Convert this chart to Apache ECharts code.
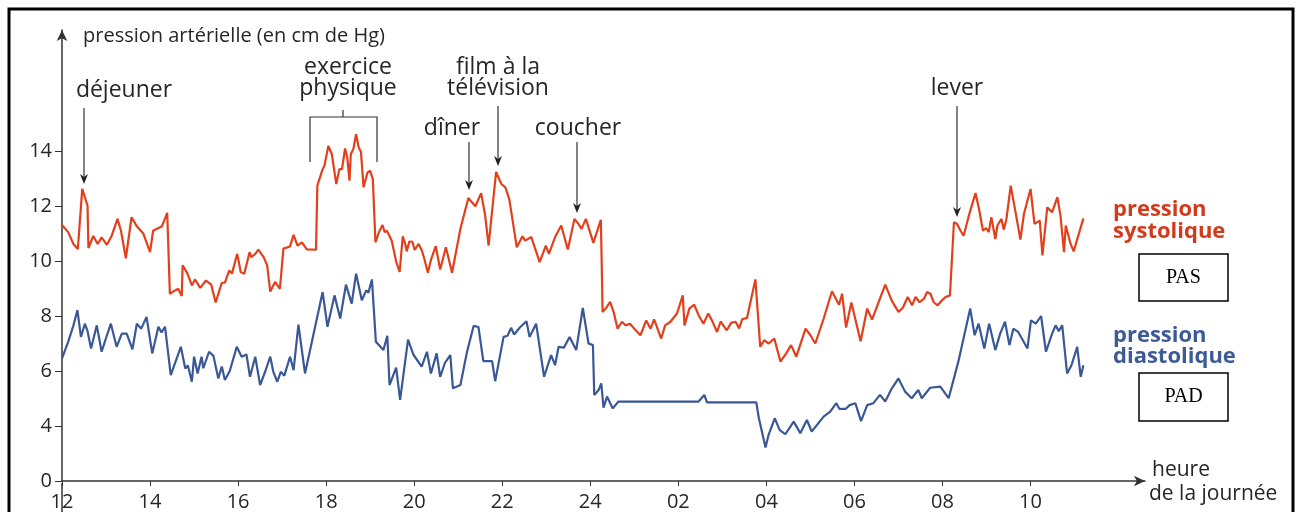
<!DOCTYPE html>
<html><head><meta charset="utf-8">
<script src="https://cdn.jsdelivr.net/npm/echarts@6/dist/echarts.min.js"></script>
<style>html,body{margin:0;padding:0;background:#fff}#c{width:1297px;height:512px}</style>
</head><body><div id="c"></div>
<script>
// hours since midnight of day 1 (24+ = next day)
const sysHours = [12.0,12.14,12.26,12.36,12.46,12.58,12.6,12.71,12.81,12.9,13.02,13.13,13.26,13.34,13.45,13.58,13.7,13.85,14.0,14.07,14.27,14.39,14.45,14.57,14.64,14.72,14.74,14.85,14.95,15.02,15.14,15.27,15.39,15.49,15.63,15.7,15.8,15.86,15.98,16.06,16.14,16.26,16.3,16.39,16.46,16.58,16.66,16.73,16.84,16.95,17.03,17.18,17.26,17.35,17.45,17.56,17.77,17.8,17.84,17.92,17.96,18.05,18.13,18.23,18.3,18.36,18.43,18.48,18.53,18.56,18.62,18.68,18.74,18.79,18.85,18.94,19.0,19.06,19.12,19.2,19.28,19.33,19.38,19.49,19.59,19.67,19.74,19.8,19.83,19.89,19.96,20.01,20.1,20.17,20.23,20.31,20.38,20.49,20.59,20.72,20.86,21.05,21.23,21.39,21.52,21.61,21.69,21.86,21.98,22.07,22.16,22.33,22.46,22.52,22.66,22.85,22.99,23.06,23.2,23.34,23.49,23.64,23.73,23.8,23.9,24.07,24.24,24.28,24.35,24.45,24.53,24.62,24.72,24.8,24.9,25.0,25.14,25.27,25.37,25.45,25.61,25.7,25.82,25.97,26.1,26.14,26.25,26.36,26.46,26.57,26.68,26.76,26.88,26.96,27.1,27.2,27.3,27.38,27.45,27.56,27.75,27.86,27.95,28.05,28.18,28.32,28.45,28.56,28.68,28.89,29.0,29.11,29.3,29.49,29.65,29.72,29.81,29.93,30.14,30.29,30.4,30.7,30.85,31.0,31.1,31.21,31.31,31.39,31.48,31.58,31.65,31.73,31.8,31.89,31.99,32.07,32.17,32.26,32.33,32.41,32.48,32.62,32.75,32.83,32.92,32.99,33.05,33.11,33.2,33.25,33.34,33.39,33.45,33.55,33.66,33.77,33.85,34.0,34.09,34.21,34.27,34.38,34.49,34.61,34.68,34.76,34.8,34.91,34.98,35.2];
const sysValues = [11.31,11.05,10.62,10.44,12.62,12.01,10.47,10.91,10.62,10.86,10.59,10.92,11.53,11.1,10.1,11.59,11.26,10.99,10.32,11.1,11.26,11.75,8.81,8.93,8.99,8.73,9.84,9.54,9.11,9.33,9.02,9.29,9.14,8.49,9.21,9.21,9.66,9.54,10.26,9.6,9.54,10.32,10.14,10.26,10.41,10.14,9.84,8.89,9.24,8.99,10.45,10.53,10.95,10.56,10.68,10.42,10.41,12.74,12.77,13.34,13.46,14.18,13.88,12.8,13.34,13.34,14.09,13.76,12.92,13.88,14.08,14.61,14.13,13.97,12.68,13.22,13.28,12.98,10.68,11.05,11.31,11.05,11.1,10.74,9.98,9.6,10.9,10.6,10.35,10.71,10.7,10.4,10.62,10.4,10.08,9.57,10.04,10.54,9.69,10.5,9.57,11.17,12.29,11.99,12.47,11.68,10.56,13.24,12.8,12.68,12.25,10.5,10.9,10.74,10.87,9.96,10.56,10.26,10.87,11.29,10.42,11.53,11.35,11.17,11.53,10.66,11.5,8.15,8.27,8.51,8.15,7.54,7.79,7.66,7.72,7.54,7.3,7.84,7.54,7.88,7.18,7.66,7.79,8.09,8.75,7.66,8.27,8.41,8.03,7.72,8.09,7.85,7.42,7.8,7.48,7.75,7.79,7.55,7.88,7.93,9.33,6.88,7.12,7.0,7.18,6.34,6.64,6.94,6.52,7.54,7.3,7.0,7.9,8.9,8.41,8.81,7.58,8.49,7.08,8.27,7.87,9.14,8.55,8.15,8.3,8.69,8.39,8.69,8.5,8.63,8.87,8.8,8.5,8.39,8.57,8.69,8.75,11.41,11.35,11.1,10.92,11.77,12.47,11.89,11.1,11.2,11.05,11.59,10.8,11.3,11.53,11.14,11.5,12.74,11.77,10.78,11.71,12.62,11.35,11.47,10.2,11.95,11.77,12.32,11.65,10.32,11.29,10.62,10.35,11.55];

const diaHours = [12.0,12.14,12.26,12.35,12.43,12.52,12.58,12.66,12.79,12.9,13.0,13.11,13.24,13.36,13.47,13.6,13.7,13.8,13.92,14.05,14.19,14.26,14.34,14.47,14.7,14.8,14.86,14.95,15.0,15.08,15.17,15.21,15.34,15.44,15.55,15.63,15.7,15.81,15.97,16.08,16.19,16.27,16.39,16.5,16.62,16.73,16.8,16.89,16.97,17.05,17.18,17.26,17.37,17.52,17.92,18.03,18.19,18.32,18.45,18.58,18.68,18.81,18.91,18.96,19.04,19.13,19.3,19.39,19.44,19.59,19.68,19.86,19.98,20.17,20.29,20.38,20.51,20.59,20.7,20.82,20.88,21.05,21.2,21.35,21.46,21.57,21.77,21.84,22.03,22.12,22.2,22.27,22.41,22.55,22.62,22.77,22.95,23.11,23.2,23.28,23.4,23.53,23.68,23.83,23.96,24.06,24.09,24.19,24.25,24.3,24.38,24.51,24.64,26.46,26.59,26.65,27.77,27.83,27.98,28.05,28.19,28.3,28.43,28.62,28.77,28.92,29.03,29.3,29.45,29.59,29.66,29.8,29.89,30.02,30.15,30.29,30.43,30.58,30.7,30.85,31.0,31.15,31.3,31.45,31.53,31.72,31.95,32.14,32.36,32.63,32.73,32.82,32.95,33.06,33.2,33.31,33.42,33.52,33.61,33.72,33.93,34.01,34.12,34.24,34.35,34.49,34.57,34.64,34.72,34.83,34.93,35.06,35.14,35.2];
const diaValues = [6.46,7.06,7.66,8.21,7.24,7.72,7.45,6.82,7.66,6.7,7.2,7.72,6.88,7.36,7.36,6.79,7.72,7.54,7.97,6.64,7.61,7.4,7.61,5.85,6.88,6.09,6.2,5.61,6.52,5.91,6.52,6.1,6.7,6.55,5.73,6.16,5.67,6.0,6.88,6.52,6.6,5.79,6.52,5.49,6.0,6.52,5.97,5.61,5.97,5.83,6.52,6.03,7.69,5.91,8.87,7.61,8.75,7.91,9.14,8.45,9.54,8.57,8.93,8.85,9.33,7.06,6.76,7.28,5.49,6.12,4.95,7.14,6.6,6.16,6.7,5.91,6.64,5.79,6.3,6.58,5.37,5.49,6.7,7.64,7.6,6.36,6.36,5.63,7.24,7.28,7.57,7.33,7.6,7.81,7.24,7.72,5.79,6.58,6.21,6.88,6.85,7.24,6.76,8.29,7.0,6.94,5.13,5.31,5.55,4.67,5.07,4.64,4.89,4.89,5.13,4.86,4.86,4.28,3.22,3.68,4.28,3.86,3.7,4.16,3.74,4.22,3.8,4.34,4.52,4.83,4.62,4.62,4.76,4.83,4.18,4.76,4.83,5.13,4.89,5.37,5.73,5.25,5.01,5.31,5.01,5.39,5.43,5.01,6.34,8.27,7.3,7.72,6.82,7.72,6.76,7.36,7.79,6.94,7.54,7.42,6.82,7.84,7.72,8.0,6.7,7.36,7.66,7.45,7.66,5.91,6.21,6.88,5.79,6.21];

const xTicks = [12,14,16,18,20,22,24,26,28,30,32,34];
const yTicks = [2,4,6,8,10,12,14]; // the axis is broken below 4: the lowest tick is labelled 0
const yTickLabels = {2:'0',4:'4',6:'6',8:'8',10:'10',12:'12',14:'14'};

const RED = '#e2401c', BLUE = '#3a5796', TXT = '#262626';
const FONT = '"Open Sans", "Noto Sans", sans-serif';
const ANN = '23px ' + FONT;

function pairs(h, v){ return h.map((x,i)=>[x, v[i]]); }
function xLabel(h){ return h <= 24 ? String(h) : String(h-24).padStart(2,'0'); }

function arrow(x, y1, y2){
  return [
    {type:'line', shape:{x1:x, y1:y1, x2:x, y2:y2-6}, style:{stroke:'#333', lineWidth:1.2}},
    {type:'polygon', shape:{points:[[x-4,y2-10],[x,y2-7],[x+4,y2-10],[x,y2]]}, style:{fill:'#222'}}
  ];
}
function txt(x, y, s, opt){
  return {type:'text', x:x, y:y, style:Object.assign({text:s, fill:TXT, font:ANN, textAlign:'center', textVerticalAlign:'middle'}, opt||{})};
}

const chart = echarts.init(document.getElementById('c'));
chart.setOption({
  animation:false,
  backgroundColor:'#fff',
  grid:{left:62, right:152, top:30, bottom:29},
  xAxis:{type:'value', min:12, max:36.6, interval:2,
    axisLine:{lineStyle:{color:'#333', width:1.5}, symbol:['none','arrow'], symbolSize:[8,11]},
    axisTick:{customValues:xTicks, length:5, lineStyle:{color:'#333'}},
    axisLabel:{customValues:xTicks, formatter:xLabel, color:TXT, fontSize:20, fontFamily:FONT, margin:11},
    splitLine:{show:false}},
  yAxis:{type:'value', min:2, max:18.4, interval:2,
    axisLine:{show:true, lineStyle:{color:'#333', width:1.5}, symbol:['none','arrow'], symbolSize:[8,11]},
    axisTick:{show:true, customValues:yTicks, length:7, lineStyle:{color:'#333'}},
    axisLabel:{customValues:yTicks, formatter:v=>yTickLabels[v], color:TXT, fontSize:20, fontFamily:FONT, margin:10},
    splitLine:{show:false}},
  series:[
    {name:'pression systolique', type:'line', data:pairs(sysHours, sysValues), showSymbol:false, lineStyle:{color:RED, width:2.2}, itemStyle:{color:RED}},
    {name:'pression diastolique', type:'line', data:pairs(diaHours, diaValues), showSymbol:false, lineStyle:{color:BLUE, width:2.2}, itemStyle:{color:BLUE}}
  ],
  graphic:[].concat(
    [{type:'rect', shape:{x:9, y:9, width:1284, height:520}, style:{fill:'none', stroke:'#000', lineWidth:3}, z:100},
     {type:'line', shape:{x1:62, y1:483, x2:62, y2:512}, style:{stroke:'#333', lineWidth:1.5}}],
    [txt(83, 36, 'pression artérielle (en cm de Hg)', {textAlign:'left', font:'20px '+FONT})],
    [txt(124, 90, 'déjeuner')], arrow(84, 108, 184),
    [txt(348, 67, 'exercice'), txt(348, 88, 'physique')],
    [{type:'polyline', shape:{points:[[310,162],[310,117],[377,117],[377,162]]}, style:{stroke:'#333', lineWidth:1.2, fill:'none'}},
     {type:'line', shape:{x1:343, y1:110, x2:343, y2:117}, style:{stroke:'#333', lineWidth:1.2}}],
    [txt(452, 128, 'dîner')], arrow(469, 142, 190),
    [txt(498, 67, 'film à la'), txt(498, 88, 'télévision')], arrow(498, 106, 166),
    [txt(578, 128, 'coucher')], arrow(577, 142, 213),
    [txt(957, 88, 'lever')], arrow(957, 106, 217),
    [txt(1113, 210, 'pression', {textAlign:'left', fill:'#d23a1c', font:'bold 22px '+FONT}),
     txt(1113, 232, 'systolique', {textAlign:'left', fill:'#d23a1c', font:'bold 22px '+FONT}),
     txt(1113, 336, 'pression', {textAlign:'left', fill:'#3d5a96', font:'bold 22px '+FONT}),
     txt(1113, 357, 'diastolique', {textAlign:'left', fill:'#3d5a96', font:'bold 22px '+FONT})],
    [{type:'rect', shape:{x:1139, y:254, width:89, height:47}, style:{fill:'#fff', stroke:'#000', lineWidth:1.5}},
     txt(1183.5, 278, 'PAS', {fill:'#000', font:'20px "Liberation Serif", serif'}),
     {type:'rect', shape:{x:1139, y:373, width:89, height:48}, style:{fill:'#fff', stroke:'#000', lineWidth:1.5}},
     txt(1183.5, 397, 'PAD', {fill:'#000', font:'20px "Liberation Serif", serif'})],
    [txt(1152, 470, 'heure', {textAlign:'left', font:'21px '+FONT}),
     txt(1149, 494, 'de la journée', {textAlign:'left', font:'21px '+FONT})]
  )
});
</script></body></html>
